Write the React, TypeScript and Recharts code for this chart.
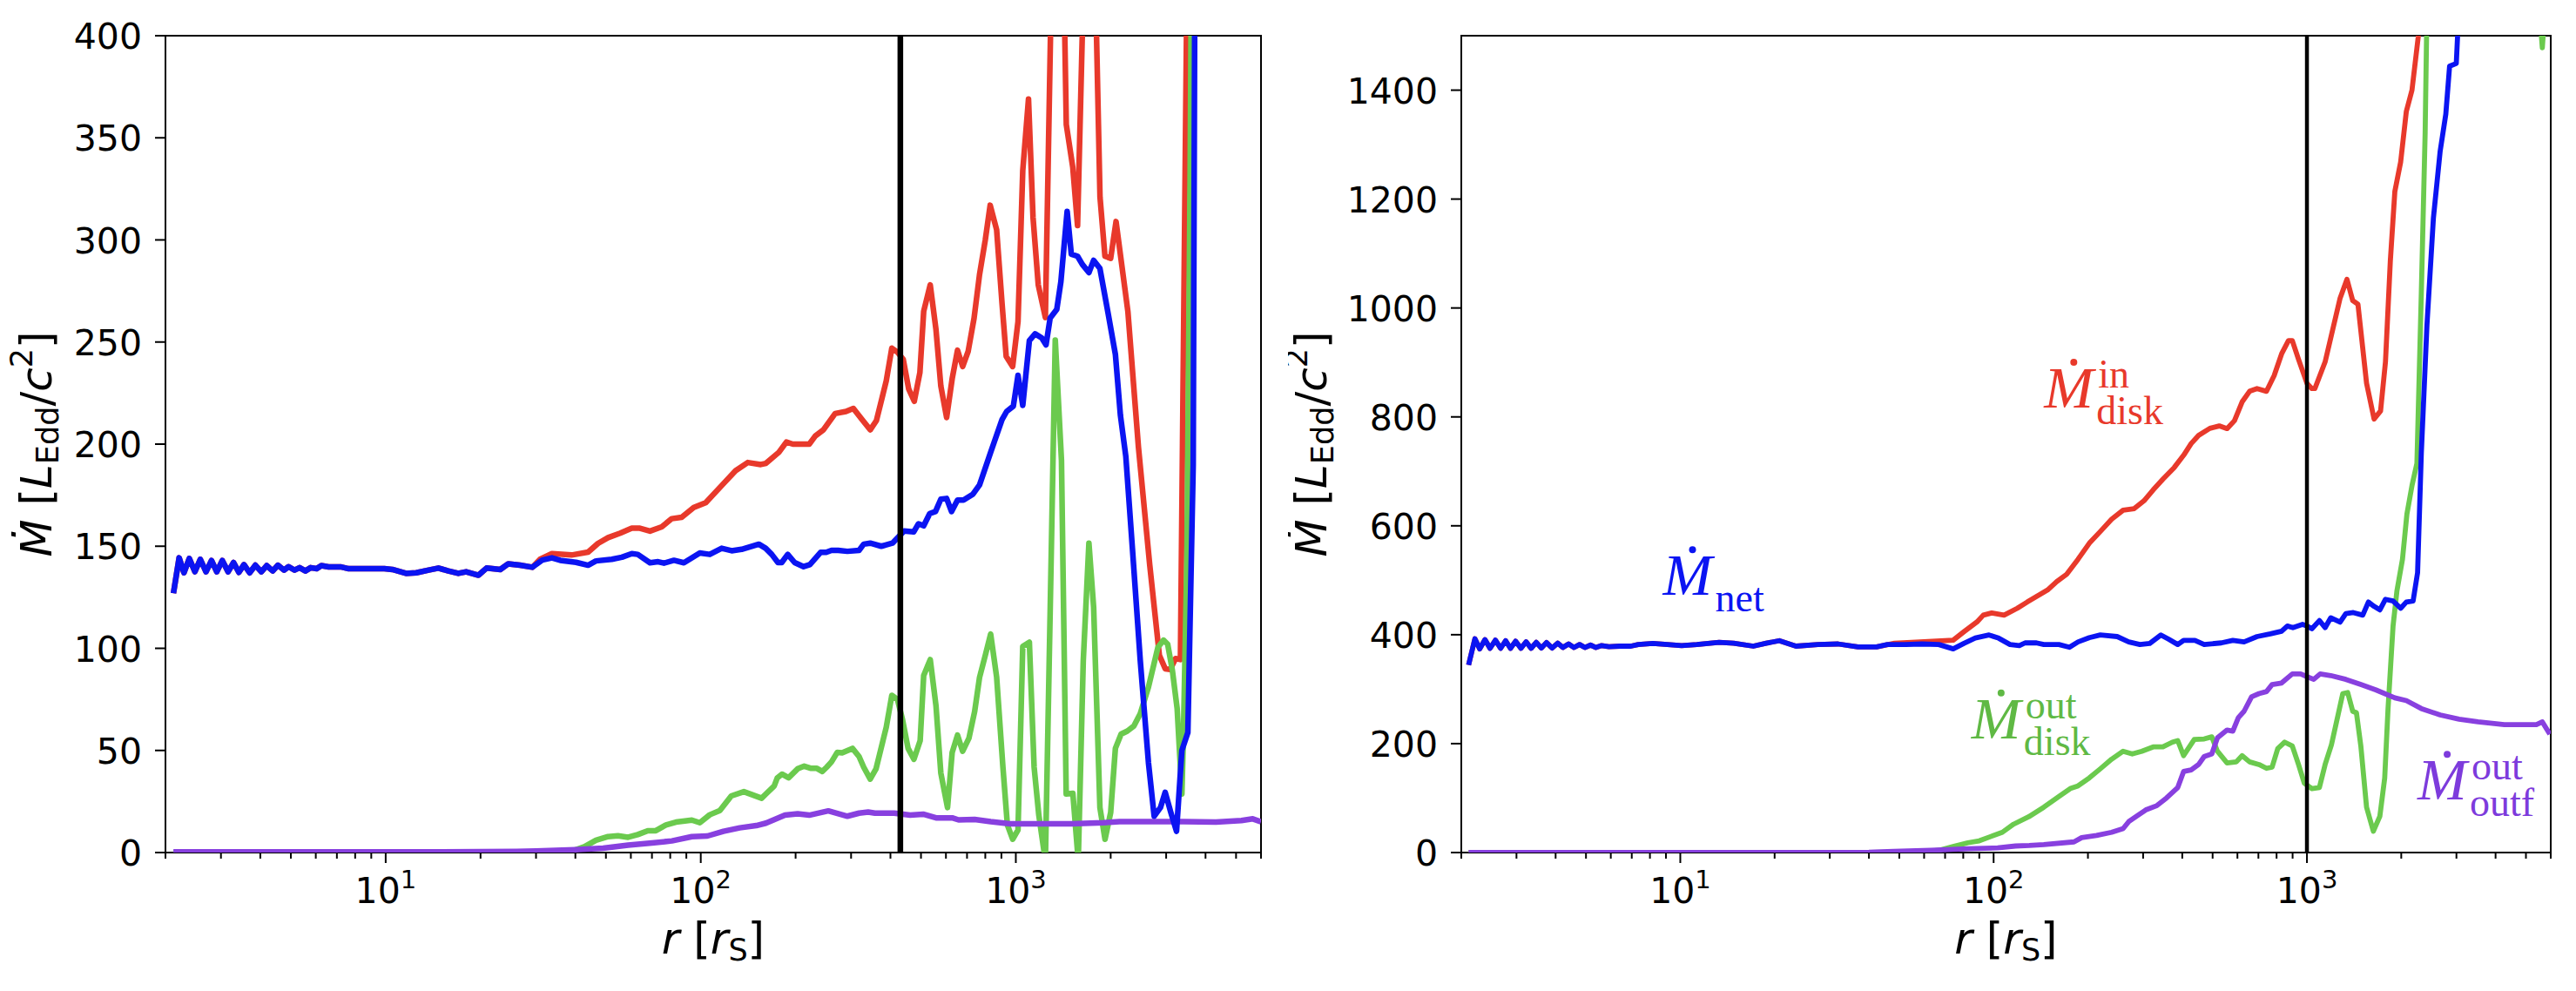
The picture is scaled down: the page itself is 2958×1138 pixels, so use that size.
import React from 'react';
import {
  LineChart,
  Line,
  XAxis,
  YAxis,
  ReferenceLine,
  ReferenceArea,
  ReferenceDot,
} from 'recharts';

// ---------- left panel ----------
const leftNetR = [2.12, 2.21, 2.29, 2.38, 2.48, 2.58, 2.69, 2.8, 2.91, 3.03, 3.16, 3.29, 3.42, 3.55, 3.7, 3.86, 4.03, 4.19, 4.38, 4.55, 4.76, 4.92, 5.14, 5.33, 5.56, 5.78, 6.04, 6.25, 6.59, 7.19, 7.63, 8.57, 9.9, 10.5, 11.6, 12.5, 13.7, 14.7, 15.8, 17, 18, 19.7, 20.9, 23.1, 24.5, 26.7, 29.2, 31.4, 33.7, 35.8, 40.2, 43.9, 46.5, 52.2, 56.2, 60.4, 63.1, 69, 73.2, 76.4, 82.2, 88.4, 99.3, 106.8, 116.5, 125.3, 134.8, 152.9, 160.7, 168, 175.8, 180.7, 188.8, 198.6, 212, 222, 240, 250, 260, 273, 292, 318, 329, 345, 374, 406, 442, 474, 491, 510, 533, 556, 578, 603, 625, 653, 682, 731, 767, 832, 904, 935, 982, 1016, 1052, 1104, 1151, 1208, 1247, 1285, 1349, 1390, 1455, 1500, 1570, 1626, 1706, 1766, 1849, 1963, 2070, 2148, 2234, 2344, 2483, 2636, 2748, 2877, 2979, 3105, 3236, 3365, 3516, 3656, 3698, 4000, 5000, 6000];
const leftNetV = [127, 144.3, 137, 144, 137.5, 143.6, 137.5, 143, 137.5, 143, 137.5, 142, 137.2, 141, 137, 140.7, 137.5, 140.5, 137.9, 140.7, 138.3, 140, 138.3, 139.5, 137.9, 139.5, 139, 140.5, 139.9, 139.9, 139, 139, 139, 138.6, 136.7, 137, 138.3, 139.3, 137.9, 136.7, 137.5, 135.8, 139.3, 138.6, 141.4, 140.7, 139.7, 143.2, 144.3, 143.1, 142.1, 140.7, 142.8, 143.6, 144.6, 146.4, 146, 141.9, 142.4, 141.7, 143.1, 141.9, 146.7, 146, 149, 147.8, 148.5, 151, 149, 146, 142, 142, 146, 142, 140, 141, 147, 147, 148, 148, 147.5, 148, 151, 151.5, 150, 151.5, 157.5, 157, 161, 160, 166, 167, 173, 173.4, 167, 172.6, 172.6, 175.5, 180, 196, 212, 216, 218.6, 233.7, 219, 250.7, 254, 252, 248.6, 261.7, 266, 279.5, 314, 293, 292, 288, 284, 290, 286, 264, 244, 214, 194, 149, 94, 44, 17.8, 22, 29.5, 19.6, 10.4, 50, 58.8, 190, 420, 700, 1000, 1200];

const leftInR = [...leftNetR.filter((r) => r < 30), 30.9, 33.7, 38.9, 43.9, 47.2, 50.8, 55.5, 60.4, 64.1, 69, 75.2, 80.9, 87, 95, 103.7, 117, 129, 141, 155, 161, 177, 187, 196, 221, 231, 245, 267, 289, 305, 325, 345, 361, 388, 404, 421, 439, 457, 476, 496, 510, 535, 558, 578, 603, 628, 653, 678, 706, 737, 767, 800, 829, 869, 904, 932, 977, 1016, 1052, 1097, 1134, 1178, 1241, 1360, 1446, 1516, 1570, 1718, 1850, 1918, 2000, 2080, 2268, 2450, 2660, 2855, 2980, 3090, 3213, 3330, 3490, 4000, 5000, 6000];
const leftInV = [...leftNetV.filter((_, i) => leftNetR[i] < 30), 143.6, 146.4, 145.7, 147.1, 151.4, 154.2, 156.4, 158.8, 158.8, 157.4, 159.5, 163.5, 164.2, 169, 171.3, 180, 187, 191, 190, 190.6, 196, 201, 200, 200, 204, 207, 215, 216, 217.5, 212, 207, 211.5, 231, 247, 245, 241.6, 227, 221, 235, 265, 278, 256, 228.5, 213, 232, 246, 238, 245.5, 261.7, 283, 300, 317, 305, 269, 243, 238, 260, 334, 369, 311, 278, 262, 600, 356.5, 335.6, 307, 550, 321, 292, 291, 309, 265, 198.5, 141, 96.6, 90, 89.6, 95, 94.5, 420, 900, 1300, 1500];

const leftOutDiskR = [2.12, 10, 30, 39, 42.7, 46.5, 50.8, 54.6, 58.8, 63.1, 67.9, 72, 77.5, 83.4, 93.7, 99.3, 106.8, 115, 125, 137, 145, 156, 161, 171, 175, 181, 190, 203, 213, 223, 233, 243, 251, 260, 271, 281, 303, 318, 329, 345, 360, 388, 404, 421, 437, 455, 475, 497, 510, 535, 558, 578, 607, 628, 653, 678, 710, 740, 767, 800, 832, 869, 910, 940, 977, 1016, 1052, 1104, 1143, 1183, 1241, 1285, 1334, 1396, 1445, 1517, 1578, 1637, 1706, 1766, 1849, 1919, 2000, 2070, 2158, 2259, 2371, 2483, 2636, 2825, 2944, 3034, 3141, 3251, 3365, 3404, 3491, 3573, 3614, 4000, 5000, 6000];
const leftOutDiskV = [0, 0, 0, 0.7, 2.8, 6, 7.8, 8.2, 7.5, 8.8, 10.7, 10.7, 13.5, 14.9, 15.9, 14.6, 18.5, 20.6, 27.7, 29.8, 28.4, 26.6, 28.7, 32.6, 36.6, 38.4, 36.6, 41, 42.3, 41.3, 41.3, 39.7, 41.8, 44.4, 49, 48.8, 51, 47, 41.8, 36, 41, 61.4, 77, 75, 65, 51, 45.7, 54.8, 86.7, 94.5, 71.8, 39, 22, 49, 57.5, 49.6, 56, 69, 85.7, 96.6, 107, 86, 41.8, 13.6, 6.5, 11, 101, 103, 41.8, 18.3, -4, 117.5, 251, 192, 28.7, 29, -4, 94, 151.5, 120, 22, 6.5, 19.6, 51, 58, 59.5, 62, 68, 81, 100.5, 104, 102, 89, 70.5, 28.7, 57.5, 143.6, 326, 450, 900, 1300, 1500];

const leftOutfR = [2.12, 10, 20, 26, 30, 40, 49, 58.8, 70, 81, 93.7, 105, 118, 133, 150, 161, 185, 203, 221, 254, 292, 318, 340, 357, 411, 462, 508, 558, 628, 658, 740, 832, 959, 1183, 1500, 1897, 2133, 2698, 3412, 4315, 5200, 5650, 6000];
const leftOutfV = [0.3, 0.3, 0.4, 0.5, 0.7, 1.4, 2.1, 3.6, 4.7, 5.7, 7.8, 8.1, 10.4, 12.1, 13.2, 14.4, 18.3, 19, 18.3, 20.4, 17.8, 19.3, 19.8, 19.3, 19.3, 18.3, 18.8, 17, 17, 16, 16.2, 15.1, 14.1, 14.1, 14.1, 14.6, 15.1, 15.1, 15.1, 14.9, 15.7, 16.5, 15.1];

// ---------- right panel ----------
const rightNetR = [2.11, 2.21, 2.29, 2.38, 2.47, 2.57, 2.67, 2.77, 2.87, 2.98, 3.1, 3.22, 3.34, 3.47, 3.6, 3.74, 3.9, 4.06, 4.22, 4.4, 4.58, 4.77, 4.96, 5.17, 5.38, 5.61, 5.92, 6.41, 6.95, 7.34, 8.17, 9.1, 10.1, 11.3, 13.3, 14.8, 17.1, 18.8, 20.7, 23.4, 27.5, 31.9, 36.9, 42.3, 45.8, 52.4, 59.1, 66.8, 74.3, 80.6, 87.4, 96.7, 103.8, 112.8, 120.8, 126, 137, 144.6, 161.6, 174.6, 186, 202, 219, 248, 270, 293, 315, 342, 362, 387, 404, 439, 470, 533, 580, 630, 693, 764, 830, 866, 902, 968, 1000, 1037, 1096, 1143, 1191, 1276, 1331, 1406, 1507, 1571, 1638, 1709, 1781, 1883, 1991, 2076, 2182, 2255, 2318, 2416, 2533, 2662, 2775, 2853, 2997, 3060, 4000, 5000, 6000];
const rightNetV = [344.5, 392.5, 374, 391, 375, 390, 375, 389, 375, 388, 375, 387, 375, 386, 375.5, 385.6, 375.5, 384.5, 376.5, 383, 376.5, 382, 376.5, 381, 376.5, 380, 378, 379, 379, 382, 384, 382, 380, 382, 386, 384.5, 379, 384.5, 389, 379, 382, 383, 377.6, 377.6, 382, 382, 383, 382, 374, 384.5, 394, 399.5, 393.6, 382, 380, 385, 385, 382, 382, 377, 386.8, 394.6, 399.5, 396.6, 386.8, 382, 384, 399.5, 391.7, 382, 389.7, 389.7, 382, 385, 389.7, 386.8, 396.6, 401.5, 406.4, 416, 413, 419, 416, 411, 426, 413, 431, 423, 438.7, 440.6, 436, 460, 452, 445.6, 465, 462, 448.5, 460, 462, 514, 734, 969, 1165, 1288, 1356, 1444, 1449, 1560, 2500, 3000, 3300];

const rightInR = [...rightNetR.filter((r) => r < 45), 48.3, 60, 74.3, 80.6, 88.5, 92.7, 98.6, 108, 119, 128, 137, 148.6, 159, 171, 186, 202, 219, 238, 259, 281, 302, 323, 347, 377, 404, 427, 451, 490, 525, 556, 587, 621, 656, 693, 743, 786, 830, 873, 898, 940, 1000, 1037, 1060, 1143, 1197, 1276, 1342, 1400, 1455, 1550, 1638, 1718, 1781, 1846, 1908, 1991, 2076, 2164, 2266, 2285, 3000, 4000, 6000];
const rightInV = [...rightNetV.filter((_, i) => rightNetR[i] < 45), 384.5, 387, 390, 406, 423.5, 436, 440, 436, 448.5, 460, 470, 482, 497.5, 511, 538.6, 568, 589.5, 612, 628.7, 631.6, 646, 666, 685.5, 707, 729.5, 751, 766, 779, 783.4, 778.5, 793, 827.5, 847, 852, 847, 876, 915.6, 940, 940, 905.8, 861.7, 852, 852, 901, 950, 1018, 1052.7, 1013.5, 1006.7, 861.7, 796, 811, 901, 1087, 1214, 1268, 1361, 1400, 1498, 1530, 2500, 3500, 4000];

const rightOutDiskR = [2.11, 10, 40, 60, 66.8, 74.3, 82.8, 90, 97.9, 106.6, 115.8, 129.4, 144.6, 161.6, 175.6, 186, 202, 219, 238, 259, 277, 297, 323, 347, 372, 387, 404, 437, 470, 497, 518, 556, 595, 621, 656, 703, 743, 774, 807, 849, 898, 940, 981, 1037, 1096, 1143, 1197, 1259, 1301, 1349, 1400, 1439, 1486, 1550, 1629, 1709, 1771, 1815, 1883, 1937, 2018, 2085, 2164, 2244, 2318, 2384, 2416, 3000, 4500, 5500, 5640, 5800, 6000];
const rightOutDiskV = [0, 0, 0, 1, 4, 11, 18, 21.5, 29.4, 37.2, 52, 65.6, 83.2, 102.8, 117.5, 122.4, 137, 153.7, 171.4, 186, 181, 186, 194, 194, 202.7, 205.6, 178, 207.6, 208.6, 212.5, 186, 164.5, 166.5, 178, 166.5, 161.6, 154.7, 156.7, 191, 202.7, 195.8, 161.6, 127.3, 117.5, 119.5, 161.6, 197.8, 254.6, 291.8, 293.8, 259.5, 256.6, 195.8, 83.2, 39.2, 66.6, 137, 264.4, 416, 480, 538.6, 621.8, 673.7, 714.8, 1028, 1322, 1550, 2500, 2000, 1560, 1478, 1580, 1700];

const rightOutfR = [2.11, 10, 40, 48, 63, 83, 103, 117.5, 130, 144.6, 180.6, 191, 213, 238, 259, 270, 289, 306, 332, 356, 387, 404, 427, 451, 470, 497, 518, 556, 580, 604, 630, 666, 703, 743, 774, 830, 898, 955, 1000, 1051, 1102, 1191, 1331, 1486, 1660, 1908, 2076, 2318, 2662, 3060, 3515, 4267, 4900, 5400, 5640, 5960];
const rightOutfV = [0, 0, 0.5, 2, 4, 7, 8.5, 12, 13, 14.7, 19.6, 27.4, 31.3, 37.2, 44, 56.8, 68.5, 78.3, 86.2, 100, 119.5, 148.8, 151.8, 161.6, 176.3, 181, 210.5, 225, 223, 247.7, 259.5, 286, 291.8, 295.7, 308.5, 311.4, 328, 328, 323, 318, 328, 325, 318, 308.5, 298.7, 284, 279, 264.4, 252.6, 244.8, 240, 235, 235, 235, 240, 217.4];

// ---------- axes ----------
const xDomain = [2, 6000];
const majorTicks = [10, 100, 1000];
const xTicks = [2, 3, 4, 5, 6, 7, 8, 9, 10, 20, 30, 40, 50, 60, 70, 80, 90, 100, 200, 300, 400, 500, 600, 700, 800, 900, 1000, 2000, 3000, 4000, 5000, 6000];
const leftYTicks = [0, 50, 100, 150, 200, 250, 300, 350, 400];
const rightYTicks = [0, 200, 400, 600, 800, 1000, 1200, 1400];
const leftMarker = 430;
const rightMarker = 1000;

const RED = '#e8392b';
const BLUE = '#0b14f2';
const GREEN = '#6bca4e';
const PURPLE = '#8840df';
const FONT = "'DejaVu Sans', sans-serif";
const SERIF = "'Liberation Serif', 'DejaVu Serif', serif";

const rows = (rs: number[], vs: number[]) => rs.map((r, i) => ({ r, v: vs[i] }));

const XTick = (props: any) => {
  const { x, y, payload } = props;
  const major = majorTicks.includes(payload.value);
  const exp = Math.round(Math.log10(payload.value));
  return (
    <g>
      <line x1={x} x2={x} y1={y} y2={y + (major ? 12 : 7)} stroke="#000" strokeWidth={2} />
      {major && (
        <text x={x} y={y + 58} textAnchor="middle" fontFamily={FONT} fontSize={41} fill="#000">
          10<tspan fontSize={29} dy={-17}>{exp}</tspan>
        </text>
      )}
    </g>
  );
};

const YTick = (props: any) => {
  const { x, y, payload } = props;
  return (
    <g>
      <line x1={x - 12} x2={x} y1={y} y2={y} stroke="#000" strokeWidth={2} />
      <text x={x - 27} y={y + 15} textAnchor="end" fontFamily={FONT} fontSize={41} fill="#000">
        {payload.value}
      </text>
    </g>
  );
};

const YTitle = (props: any) => {
  const { viewBox, dx } = props;
  const bx = viewBox.x + dx;
  const cy = viewBox.y + viewBox.height / 2;
  return (
    <text x={bx} y={cy} transform={`rotate(-90, ${bx}, ${cy})`} textAnchor="middle" fontFamily={FONT} fontSize={50} fill="#000">
      <tspan fontStyle="italic">Ṁ</tspan>
      <tspan> [</tspan>
      <tspan fontStyle="italic">L</tspan>
      <tspan fontSize={35} dy={8}>Edd</tspan>
      <tspan dy={-8}>/</tspan>
      <tspan fontStyle="italic">c</tspan>
      <tspan fontSize={35} dy={-22}>2</tspan>
      <tspan dy={22}>]</tspan>
    </text>
  );
};

const XTitle = (props: any) => {
  const { viewBox } = props;
  const cx = viewBox.x + viewBox.width / 2;
  return (
    <text x={cx} y={viewBox.y + 116} textAnchor="middle" fontFamily={FONT} fontSize={50} fill="#000">
      <tspan fontStyle="italic">r</tspan>
      <tspan> [</tspan>
      <tspan fontStyle="italic">r</tspan>
      <tspan fontSize={35} dy={8}>S</tspan>
      <tspan dy={-8}>]</tspan>
    </text>
  );
};

const MdotLabel = ({ cx, cy, color, sup, sub }: any) => (
  <g fill={color}>
    <text x={cx} y={cy} fontFamily={SERIF} fontStyle="italic" fontSize={68}>M</text>
    <circle cx={cx + 34} cy={cy - 52} r={4} />
    {sup && <text x={cx + 62} y={cy - 23} fontFamily={SERIF} fontSize={46}>{sup}</text>}
    {sub && <text x={cx + 60} y={cy + 19} fontFamily={SERIF} fontSize={46}>{sub}</text>}
  </g>
);

const Panel = ({ yMax, yTicks, marker, markerWidth, lineWidth, margin, titleDx, series, notes }: any) => (
  <LineChart width={1479} height={1138} margin={margin}>
    <XAxis
      dataKey="r"
      type="number"
      scale="log"
      domain={xDomain}
      allowDataOverflow
      ticks={xTicks}
      interval={0}
      axisLine={false}
      tickLine={false}
      tickSize={0}
      tickMargin={0}
      height={100}
      tick={(p: any) => <XTick {...p} />}
      label={<XTitle />}
    />
    <YAxis
      type="number"
      domain={[0, yMax]}
      allowDataOverflow
      ticks={yTicks}
      interval={0}
      axisLine={false}
      tickLine={false}
      tickSize={0}
      tickMargin={0}
      width={150}
      tick={(p: any) => <YTick {...p} />}
      label={<YTitle dx={titleDx} />}
    />
    {series.map((s: any) => (
      <Line
        key={s.name}
        data={s.data}
        dataKey="v"
        type="linear"
        stroke={s.color}
        strokeWidth={lineWidth}
        strokeLinejoin="round"
        dot={false}
        activeDot={false}
        isAnimationActive={false}
      />
    ))}
    <ReferenceLine x={marker} stroke="#000" strokeWidth={markerWidth} />
    <ReferenceArea x1={2} x2={6000} y1={0} y2={yMax} fill="none" stroke="#000" strokeWidth={2} ifOverflow="visible" />
    {notes.map((n: any, i: number) => (
      <ReferenceDot
        key={i}
        x={n.x}
        y={n.y}
        r={0}
        ifOverflow="visible"
        shape={(p: any) => <MdotLabel cx={p.cx} cy={p.cy} color={n.color} sup={n.sup} sub={n.sub} />}
      />
    ))}
  </LineChart>
);

export default function App() {
  const leftSeries = [
    { name: 'in', color: RED, data: rows(leftInR, leftInV) },
    { name: 'outdisk', color: GREEN, data: rows(leftOutDiskR, leftOutDiskV) },
    { name: 'outf', color: PURPLE, data: rows(leftOutfR, leftOutfV) },
    { name: 'net', color: BLUE, data: rows(leftNetR, leftNetV) },
  ];
  const rightSeries = [
    { name: 'in', color: RED, data: rows(rightInR, rightInV) },
    { name: 'outdisk', color: GREEN, data: rows(rightOutDiskR, rightOutDiskV) },
    { name: 'outf', color: PURPLE, data: rows(rightOutfR, rightOutfV) },
    { name: 'net', color: BLUE, data: rows(rightNetR, rightNetV) },
  ];
  const rightNotes = [
    { x: 145, y: 817, color: RED, sup: 'in', sub: 'disk' },
    { x: 8.8, y: 473, color: BLUE, sub: 'net' },
    { x: 85, y: 210, color: '#5fb944', sup: 'out', sub: 'disk' },
    { x: 2255, y: 97, color: '#7d3bdc', sup: 'out', sub: 'outf' },
  ];
  return (
    <div style={{ position: 'relative', width: 2958, height: 1138, background: '#fff' }}>
      <style>{'body{margin:0;background:#fff}'}</style>
      <div style={{ position: 'absolute', left: 0, top: 0 }}>
        <Panel
          yMax={400}
          yTicks={leftYTicks}
          marker={leftMarker}
          markerWidth={6.5}
          lineWidth={6.5}
          margin={{ top: 41, right: 31, left: 40, bottom: 59 }}
          titleDx={19}
          series={leftSeries}
          notes={[]}
        />
      </div>
      <div style={{ position: 'absolute', left: 1479, top: 0 }}>
        <Panel
          yMax={1500}
          yTicks={rightYTicks}
          marker={rightMarker}
          markerWidth={4.5}
          lineWidth={5.8}
          margin={{ top: 41, right: 29, left: 49, bottom: 59 }}
          titleDx={-5}
          series={rightSeries}
          notes={rightNotes}
        />
      </div>
    </div>
  );
}
